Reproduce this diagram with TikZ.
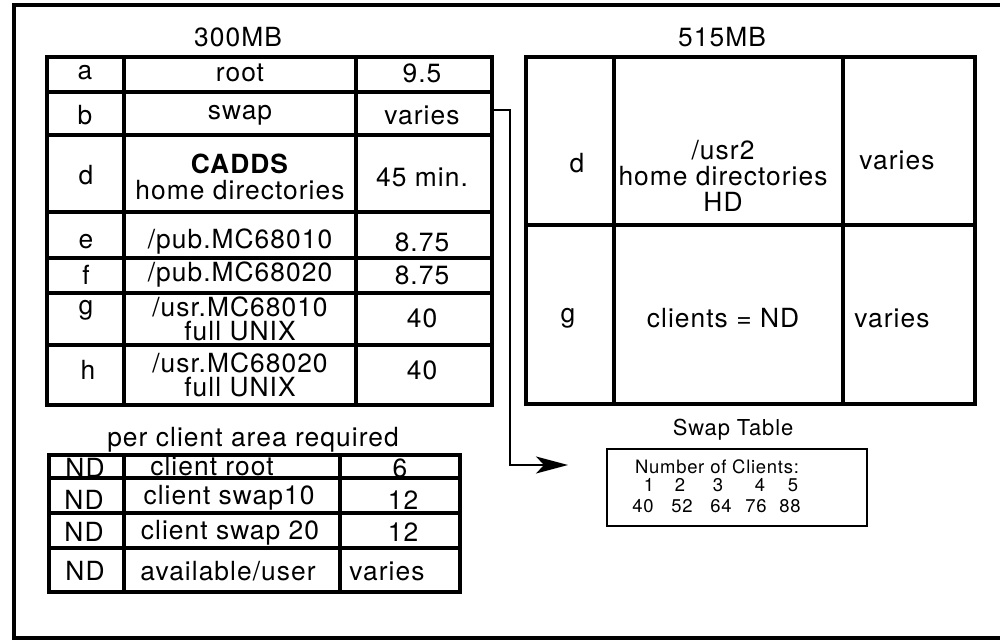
\documentclass[tikz,border=0pt]{standalone}
\usepackage{fontspec}
\setmainfont{TeX Gyre Heros}[LetterSpace=4]
\usetikzlibrary{arrows.meta}

\begin{document}
\begin{tikzpicture}[x=0.02cm,y=-0.02cm,line width=1.9pt,>={Stealth[length=6.4mm,width=3.4mm,inset=1.6mm]},
  txt/.style={font=\fontsize{15}{15}\selectfont,align=center,inner sep=0pt},
  txtj/.style={font=\fontsize{15}{13.6}\selectfont,align=center,inner sep=0pt},
  small/.style={font=\fontsize{12.5}{13}\selectfont,inner sep=0pt},
  tiny/.style={font=\fontsize{10.5}{10}\selectfont,inner sep=0pt}]
  \useasboundingbox (0,0) rectangle (1000,641);
  % marco
  \draw[line width=2.8pt] (1000,5) -- (14,5) -- (14,638) -- (1000,638);
  % tabla 300MB
  \node[txt] (t300) at (238,37){300MB};
  \draw[line width=2.2pt] (47,57) rectangle (492,405);
  \draw (124,57) -- (124,405); \draw (356,57) -- (356,405);
  \foreach \y in {92,135,212,258,293,345} \draw (47,\y) -- (492,\y);
  \node[txt] (la) at (85,73){a}; \node[txt] (lroot) at (240,73){root}; \node[txt] (aval) at (422,73){9.5};
  \node[txt] (lb) at (85,115){b}; \node[txt] (lswap) at (240,115){swap}; \node[txt] (bval) at (422,115){varies};
  \node[txt] (ld) at (86,175){d}; \node[txt] (lcadds) at (240,177){\textbf{CADDS}\\home directories}; \node[txt] (dval) at (422,177){45 min.};
  \node[txt] (le) at (86,242){e}; \node[txt] (lpub1) at (240,242){/pub.MC68010}; \node[txt] (eval) at (422,242){8.75};
  \node[txt] (lf) at (86,275){f}; \node[txt] (lpub2) at (240,275){/pub.MC68020}; \node[txt] (fval) at (422,275){8.75};
  \node[txt] (lg) at (86,310){g}; \node[txtj] (lusr1) at (240,319){/usr.MC68010\\full UNIX}; \node[txt] (gval) at (422,318){40};
  \node[txt] (lh) at (88,370){h}; \node[txtj] (lusr2) at (240,375){/usr.MC68020\\full UNIX}; \node[txt] (hval) at (422,370){40};
  % tabla 515MB
  \node[txt] (t515) at (722,37){515MB};
  \draw[line width=2.2pt] (526,57) rectangle (975,404);
  \draw (614,57) -- (614,404); \draw (843,57) -- (843,404); \draw (526,225) -- (975,225);
  \node[txt] (rd) at (577,163){d}; \node[txt] (rhome) at (723,176){/usr2\\home directories\\HD}; \node[txt] (rdval) at (897,160){varies};
  \node[txt] (rg) at (568,318){g}; \node[txt] (rclients) at (723,318){clients = ND}; \node[txt] (rgval) at (892,318){varies};
  % area por cliente
  \node[txt] (tper) at (253,440){per client area required};
  \draw[line width=2.2pt] (49,455) rectangle (460,592);
  \draw (124,455) -- (124,592); \draw (340,455) -- (340,592);
  \foreach \y in {478,513,548} \draw (49,\y) -- (460,\y);
  \node[txt] (nd1) at (85,468){ND}; \node[txt] (croot) at (212,466){client root}; \node[txt] (crootv) at (400,468){6};
  \node[txt] (nd2) at (84,500){ND}; \node[txt] (cswap1) at (229,498){client swap10}; \node[txt] (cswap1v) at (403,500){12};
  \node[txt] (nd3) at (84,532){ND}; \node[txt] (cswap2) at (230,533){client swap 20}; \node[txt] (cswap2v) at (403,532){12};
  \node[txt] (nd4) at (85,571){ND}; \node[txt] (cavail) at (228,571){available/user}; \node[txt] (cavailv) at (387,571){varies};
  % tabla de swap
  \node[small] (tswap) at (733,430){Swap Table};
  \draw[line width=1.6pt] (607,449) rectangle (867,526);
  \node[tiny] (nclients) at (717,467){Number of Clients:};
  \foreach \n/\x in {1/649,2/680,3/718,4/760,5/793} \node[tiny] (n\n) at (\x,485){\n};
  \foreach \v/\x in {40/643,52/682,64/721,76/756,88/790} \node[tiny] (s\v) at (\x,506){\v};
  % conexion swap
  \coordinate (swapout) at (492,110); \coordinate (swapin) at (568,465);
  \draw[->,line width=1.1pt] (swapout) -| (510,465) -- (swapin);
\end{tikzpicture}
\end{document}
